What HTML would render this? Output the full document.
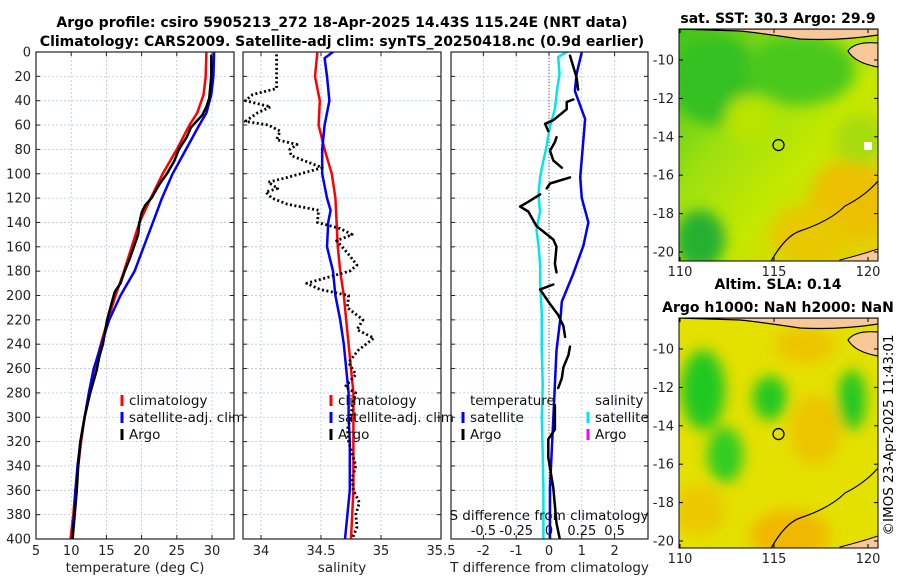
<!DOCTYPE html>
<html><head><meta charset="utf-8"><style>
html,body{margin:0;padding:0;background:#fff;}
svg{display:block;font-family:"DejaVu Sans","Liberation Sans",sans-serif;}
</style></head><body>
<svg id="fig" width="900" height="580" viewBox="0 0 900 580" xmlns="http://www.w3.org/2000/svg">
<defs>
<filter id="blur6" x="-50%" y="-50%" width="200%" height="200%"><feGaussianBlur stdDeviation="7"/></filter>
<clipPath id="clipSST"><rect x="679" y="29" width="199" height="232"/></clipPath>
<clipPath id="clipSLA"><rect x="679" y="318" width="199" height="230"/></clipPath>
<linearGradient id="sstGrad" x1="0" y1="0" x2="1" y2="1">
<stop offset="0" stop-color="#3ec41c"/><stop offset="0.35" stop-color="#9ee010"/><stop offset="0.6" stop-color="#c4e800"/><stop offset="1" stop-color="#e8cc00"/>
</linearGradient>
</defs>
<g id="titles">
<text x="342" y="27" font-size="14" font-weight="bold" text-anchor="middle">Argo profile: csiro 5905213_272 18-Apr-2025 14.43S 115.24E (NRT data)</text>
<text x="342" y="46" font-size="14" font-weight="bold" text-anchor="middle">Climatology: CARS2009. Satellite-adj clim: synTS_20250418.nc (0.9d earlier)</text>
<text x="778" y="23" font-size="14" font-weight="bold" text-anchor="middle">sat. SST: 30.3 Argo: 29.9</text>
<text x="778" y="289" font-size="14" font-weight="bold" text-anchor="middle">Altim. SLA: 0.14</text>
<text x="778" y="312" font-size="14" font-weight="bold" text-anchor="middle">Argo h1000: NaN h2000: NaN</text>
<text transform="translate(893,435) rotate(-90)" font-size="13.5" text-anchor="middle">©IMOS 23-Apr-2025 11:43:01</text>
</g>
<g id="plots"></g>
</svg>
<script>
// ---------- data ----------
const depthTicks = [0,20,40,60,80,100,120,140,160,180,200,220,240,260,280,300,320,340,360,380,400];
const tempTicks = [5,10,15,20,25,30];
const climDepth = [0,20,35,50,60,80,100,120,140,160,180,200,220,240,260,280,300,320,340,360,380,400];
const climTemp  = [29.2,29.1,28.8,27.9,26.8,25.0,23.0,21.3,19.7,18.6,17.5,16.3,15.2,14.2,13.3,12.6,11.9,11.4,11.0,10.6,10.3,9.9];
const satDepth  = [0,20,35,50,60,80,100,120,140,160,180,200,220,240,260,280,300,320,340,360,380,400];
const satTemp   = [30.3,30.2,29.9,29.2,28.2,26.3,24.4,22.9,21.6,20.3,19.0,17.0,15.4,14.3,13.2,12.5,11.9,11.3,10.9,10.6,10.4,10.1];
const argoDepth = [3,20,38,45,52,57,62,70,80,90,100,108,114,120,126,132,140,150,160,170,180,190,197,205,220,240,250,262,280,300,320,340,360,380,400];
const argoTemp  = [29.9,29.9,29.6,29.2,28.6,27.8,27.0,26.4,25.3,24.6,23.6,22.6,22.0,21.4,20.5,20.0,19.7,19.5,18.9,18.3,17.6,17.0,16.2,15.8,15.1,14.5,14.0,13.6,12.7,11.9,11.3,11.0,10.8,10.5,10.2];
const salTicks = [34,34.5,35,35.5];
const climSDepth = [0,20,40,60,80,100,120,140,160,180,200,220,240,280,320,360,400];
const climSal    = [34.47,34.45,34.49,34.48,34.53,34.59,34.62,34.63,34.64,34.66,34.69,34.71,34.73,34.77,34.77,34.77,34.75];
const satSDepth  = [0,5,20,40,60,80,100,120,130,140,160,180,200,220,240,260,280,300,320,360,400];
const satSal     = [34.60,34.53,34.55,34.57,34.53,34.51,34.51,34.55,34.58,34.56,34.55,34.60,34.62,34.66,34.69,34.71,34.73,34.73,34.74,34.74,34.70];
const argoSDepth = [2,30,35,40,45,50,57,60,65,72,76,80,85,95,103,107,112,115,120,125,130,140,145,150,155,165,175,180,190,195,200,210,220,228,235,245,255,265,275,280,290,300,310,320,340,350,360,370,380,390,400];
const argoSal    = [34.13,34.13,33.93,33.87,34.08,33.97,33.87,34.06,34.16,34.13,34.30,34.24,34.25,34.51,34.22,34.06,34.14,34.04,34.09,34.22,34.48,34.47,34.66,34.76,34.63,34.72,34.80,34.74,34.38,34.49,34.73,34.72,34.85,34.80,34.94,34.81,34.73,34.79,34.70,34.79,34.76,34.75,34.72,34.73,34.79,34.76,34.77,34.82,34.79,34.80,34.76];
const tdiffTicks = [-2,-1,0,1,2];
const sdiffTicks = [-0.5,-0.25,0,0.25,0.5];
const sdiffLabels = ["-0.5","-0.25","0","0.25","0.5"];
const satTdDepth = [0,18,32,55,72,103,120,140,159,182,205,216,245,273,301,330,358,400];
const satTdiff   = [1.0,0.84,0.79,1.1,1.05,0.95,1.0,1.2,1.05,0.74,0.39,0.36,0.23,0.18,0.13,0.08,0.03,0.03];
const satSdDepth = [0,4,18,32,47,61,80,89,103,117,131,146,159,174,188,216,245,273,301,330,358,387,400];
const satSdiff   = [0.135,0.07,0.08,0.06,0.045,0.008,-0.023,-0.043,-0.068,-0.08,-0.068,-0.095,-0.08,-0.068,-0.068,-0.055,-0.055,-0.048,-0.055,-0.048,-0.043,-0.043,-0.043];
const argoTdDepth = [3,12,21,31,null,39,41,47,56,59,65,null,70,74,81,89,95,null,103,108,112,null,117,123,127,131,143,154,160,174,181,null,191,195,205,216,225,234,null,242,249,259,268,276,null,290,310,318,333,358,387,400];
const argoTdiff   = [0.64,0.74,0.84,0.89,null,0.74,0.54,0.54,0.13,-0.12,-0.02,null,0.23,0.18,0.03,0.13,0.39,null,0.64,0.03,-0.07,null,-0.27,-0.63,-0.88,-0.63,-0.38,0.13,0.23,0.18,0.23,null,0.13,-0.27,-0.02,0.28,0.44,0.49,null,0.64,0.59,0.44,0.39,0.28,null,0.18,0.18,-0.02,-0.02,0.13,0.23,0.33];
const lonTicks = [110,115,120];
const latTicks = [-10,-12,-14,-16,-18,-20];
const argoLon = 115.24, argoLat = -14.43;

// ---------- helpers ----------
const NS = "http://www.w3.org/2000/svg";
const root = document.getElementById('plots');
function mk(tag, attrs, parent){ const e=document.createElementNS(NS,tag); for(const k in attrs) e.setAttribute(k,attrs[k]); (parent||root).appendChild(e); return e; }
function lin(d0,d1,r0,r1){ return v => r0 + (v-d0)*(r1-r0)/(d1-d0); }
const TOP=52, BOT=539;
const yDepth = lin(0,400,TOP,BOT);
const FS = 13;

function panel(name, x0, x1, xs, xticks, xlabels, xtitle, showY){
  const g = mk('g',{});
  
  
  xticks.forEach(t=>{ const l=mk('line',{x1:xs(t),x2:xs(t),y1:TOP,y2:BOT,stroke:'#b8c4e8','stroke-width':0.8,'stroke-dasharray':'2,2'},g);
      });
  depthTicks.forEach(d=>{ const l=mk('line',{x1:x0,x2:x1,y1:yDepth(d),y2:yDepth(d),stroke:'#b8c4e8','stroke-width':0.8,'stroke-dasharray':'2,2'},g);
     
    mk('line',{x1:x0,x2:x0+4,y1:yDepth(d),y2:yDepth(d),stroke:'#222'},g);
    mk('line',{x1:x1-4,x2:x1,y1:yDepth(d),y2:yDepth(d),stroke:'#222'},g);
    if(showY){ const t=mk('text',{x:x0-5,y:yDepth(d)+4.5,'font-size':FS,'text-anchor':'end',fill:'#222'},g); t.textContent=d;
        }
  });
  xticks.forEach((t,i)=>{ mk('line',{x1:xs(t),x2:xs(t),y1:BOT,y2:BOT-4,stroke:'#222'},g); mk('line',{x1:xs(t),x2:xs(t),y1:TOP,y2:TOP+4,stroke:'#222'},g);
    const tx=mk('text',{x:xs(t),y:555,'font-size':FS,'text-anchor':'middle',fill:'#222'},g); tx.textContent=xlabels[i];
      });
  const tt=mk('text',{x:(x0+x1)/2,y:572,'font-size':13.5,'text-anchor':'middle',fill:'#222'},g); tt.textContent=xtitle;
   
  return g;
}
function frame(g,x0,x1){ const r=mk('rect',{x:x0,y:TOP,width:x1-x0,height:BOT-TOP,fill:'none',stroke:'#222','stroke-width':1.2},g);
    }
function series(g,name,xs,vals,depths,color,w,dash,clipId){
  let d='', pen=false;
  for(let i=0;i<vals.length;i++){
    if(vals[i]===null||depths[i]===null){pen=false;continue;}
    d += (pen?'L':'M') + xs(vals[i]).toFixed(1) + ',' + yDepth(depths[i]).toFixed(1) + ' '; pen=true;
  }
  const p=mk('path',{d:d,fill:'none',stroke:color,'stroke-width':w,'stroke-linejoin':'round','stroke-linecap':dash?'butt':'round'},g);
  if(dash) p.setAttribute('stroke-dasharray',dash);
  if(clipId) p.setAttribute('clip-path','url(#'+clipId+')');
  
  
}
function legend(g,x,y,color,label,name){
  const gg=mk('g',{},g);
  
  
  mk('rect',{x:x-1.5,y:y-10,width:3,height:11,fill:color},gg);
  const t=mk('text',{x:x+7,y:y,'font-size':13.5,fill:'#111'},gg); t.textContent=label;
}
function clip(id,x0,x1){ const c=mk('clipPath',{id:id}); mk('rect',{x:x0,y:TOP,width:x1-x0,height:BOT-TOP},c); }

// ---------- panel 1 temperature ----------
const xT = lin(5,30,36,212);
clip('c1',36,234);
const g1 = panel('temperature-panel',36,234,xT,tempTicks,tempTicks.map(String),'temperature (deg C)',true);
series(g1,'climatology-temp-line',xT,climTemp,climDepth,'#ff0000',2.5,null,'c1');
series(g1,'satellite-temp-line',xT,satTemp,satDepth,'#0000ff',2.5,null,'c1');
series(g1,'argo-temp-line',xT,argoTemp,argoDepth,'#000',2.5,null,'c1');
frame(g1,36,234);
legend(g1,122,405,'#ff0000','climatology','legend-climatology');
legend(g1,122,422,'#0000ff','satellite-adj. clim','legend-satellite');
legend(g1,122,439,'#000','Argo','legend-argo');

// ---------- panel 2 salinity ----------
const xS = lin(34,35.5,261,441);
clip('c2',243,441);
const g2 = panel('salinity-panel',243,441,xS,salTicks,['34','34.5','35','35.5'],'salinity',false);
series(g2,'climatology-salinity-line',xS,climSal,climSDepth,'#ff0000',2.5,null,'c2');
series(g2,'satellite-salinity-line',xS,satSal,satSDepth,'#0000ff',2.5,null,'c2');
series(g2,'argo-salinity-line',xS,argoSal,argoSDepth,'#000',2.8,'2,2.5','c2');
frame(g2,243,441);
legend(g2,331,405,'#ff0000','climatology','legend-climatology');
legend(g2,331,422,'#0000ff','satellite-adj. clim','legend-satellite');
legend(g2,331,439,'#000','Argo','legend-argo');

// ---------- panel 3 differences ----------
const xD = lin(0,1,549,581.8);
const xSd = v => xD(v*4);
clip('c3',451,648);
const g3 = panel('difference-panel',451,648,xD,tdiffTicks,['-2','-1','0','1','2'],'T difference from climatology',false);
const z=mk('line',{x1:xD(0),x2:xD(0),y1:TOP,y2:BOT,stroke:'#555','stroke-width':1,'stroke-dasharray':'1,2'},g3);
 
series(g3,'satellite-salinity-diff-line',xSd,satSdiff,satSdDepth,'#00e5ee',2.5,null,'c3');
series(g3,'satellite-temp-diff-line',xD,satTdiff,satTdDepth,'#0000ee',2.5,null,'c3');
series(g3,'argo-temp-diff-line',xD,argoTdiff,argoTdDepth,'#000',2.5,null,'c3');
frame(g3,451,648);
const lh1=mk('text',{x:470,y:405,'font-size':13.5,fill:'#111'},g3); lh1.textContent='temperature';
 
const lh2=mk('text',{x:595,y:405,'font-size':13.5,fill:'#111'},g3); lh2.textContent='salinity';
 
legend(g3,463,422,'#0000ee','satellite','legend-temp-satellite');
legend(g3,463,439,'#000','Argo','legend-temp-argo');
legend(g3,588,422,'#00e5ee','satellite','legend-sal-satellite');
legend(g3,588,439,'#ff00ff','Argo','legend-sal-argo');
const st=mk('text',{x:549,y:520,'font-size':13.5,'text-anchor':'middle',fill:'#111'},g3); st.textContent='S difference from climatology';
 
sdiffTicks.forEach((v,i)=>{ const t=mk('text',{x:xSd(v),y:535,'font-size':FS,'text-anchor':'middle',fill:'#111'},g3); t.textContent=sdiffLabels[i];
    });

// ---------- maps ----------
const xLon = lin(110,120,680,868);
function drawMap(name,top,bot,latY,clipId,kind){
  const g=mk('g',{});
  
  
  const inner=mk('g',{'clip-path':'url(#'+clipId+')'},g);
  if(kind==='sst'){
    mk('rect',{x:679,y:top,width:199,height:bot-top,fill:'url(#sstGrad)'},inner);
    const b=mk('g',{filter:'url(#blur6)'},inner);
    mk('ellipse',{cx:715,cy:80,rx:45,ry:45,fill:'#36c020'},b);
    mk('ellipse',{cx:800,cy:70,rx:55,ry:35,fill:'#4cc81c'},b);
    mk('ellipse',{cx:700,cy:240,rx:25,ry:30,fill:'#28b030'},b);
    mk('ellipse',{cx:750,cy:120,rx:25,ry:25,fill:'#b8e400'},b);
    mk('ellipse',{cx:850,cy:200,rx:40,ry:40,fill:'#ecc000'},b);
    mk('ellipse',{cx:810,cy:235,rx:40,ry:30,fill:'#e8c800'},b);
    mk('ellipse',{cx:860,cy:140,rx:25,ry:25,fill:'#a8dc10'},b);
    mk('rect',{x:864,y:142,width:8,height:8,fill:'#fff'},inner);
  } else {
    mk('rect',{x:679,y:top,width:199,height:bot-top,fill:'#e4e000'},inner);
    const b=mk('g',{filter:'url(#blur6)'},inner);
    mk('ellipse',{cx:805,cy:345,rx:30,ry:18,fill:'#ecc400'},b);
    mk('ellipse',{cx:815,cy:430,rx:25,ry:35,fill:'#ecc400'},b);
    mk('ellipse',{cx:790,cy:535,rx:40,ry:25,fill:'#f0b800'},b);
    mk('ellipse',{cx:700,cy:510,rx:25,ry:25,fill:'#ecc800'},b);
    mk('ellipse',{cx:703,cy:390,rx:22,ry:40,fill:'#20c820'},b);
    mk('ellipse',{cx:725,cy:455,rx:18,ry:28,fill:'#30cc20'},b);
    mk('ellipse',{cx:770,cy:398,rx:17,ry:22,fill:'#20c820'},b);
    mk('ellipse',{cx:852,cy:400,rx:14,ry:30,fill:'#20c820'},b);
  }
  const land='#f8c898';
  mk('path',{d:`M679,${top} L878,${top} L878,${top+6} Q840,${top+12} 800,${top+10} Q760,${top+4} 740,${top+2} Z`,fill:land,stroke:'#000','stroke-width':1.2},inner);
  mk('path',{d:`M878,${top+14} Q855,${top+12} 848,${top+22} Q855,${top+34} 878,${top+38} Z`,fill:land,stroke:'#000','stroke-width':1.2},inner);
  mk('path',{d:`M878,${bot-12} Q860,${bot-6} 840,${bot-1} L840,${bot+2} L878,${bot+2} Z`,fill:land,stroke:'#000','stroke-width':1},inner);
  mk('path',{d:`M770,${bot+2} Q785,${bot-25} 800,${bot-30} Q830,${bot-40} 845,${bot-55} Q865,${bot-65} 878,${bot-80}`,fill:'none',stroke:'#000','stroke-width':1.2},inner);
  const c=mk('circle',{cx:xLon(argoLon),cy:latY(argoLat),r:5.5,fill:'none',stroke:'#000','stroke-width':1.3},g);
   
  mk('rect',{x:679,y:top,width:199,height:bot-top,fill:'none',stroke:'#000','stroke-width':1},g);
  latTicks.forEach(v=>{ mk('line',{x1:679,x2:683,y1:latY(v),y2:latY(v),stroke:'#000'},g); mk('line',{x1:874,x2:878,y1:latY(v),y2:latY(v),stroke:'#000'},g);
    const t=mk('text',{x:674,y:latY(v)+4.5,'font-size':FS,'text-anchor':'end',fill:'#222'},g); t.textContent=v;
      });
  lonTicks.forEach(v=>{ mk('line',{x1:xLon(v),x2:xLon(v),y1:bot,y2:bot-4,stroke:'#000'},g); mk('line',{x1:xLon(v),x2:xLon(v),y1:top,y2:top+4,stroke:'#000'},g);
    const t=mk('text',{x:xLon(v),y:bot+15,'font-size':FS,'text-anchor':'middle',fill:'#222'},g); t.textContent=v;
      });
}
drawMap('sst-map',29,261,lin(-10,-20,60,252),'clipSST','sst');
drawMap('sla-map',318,548,lin(-10,-20,349,541),'clipSLA','sla');
</script>
</body></html>
